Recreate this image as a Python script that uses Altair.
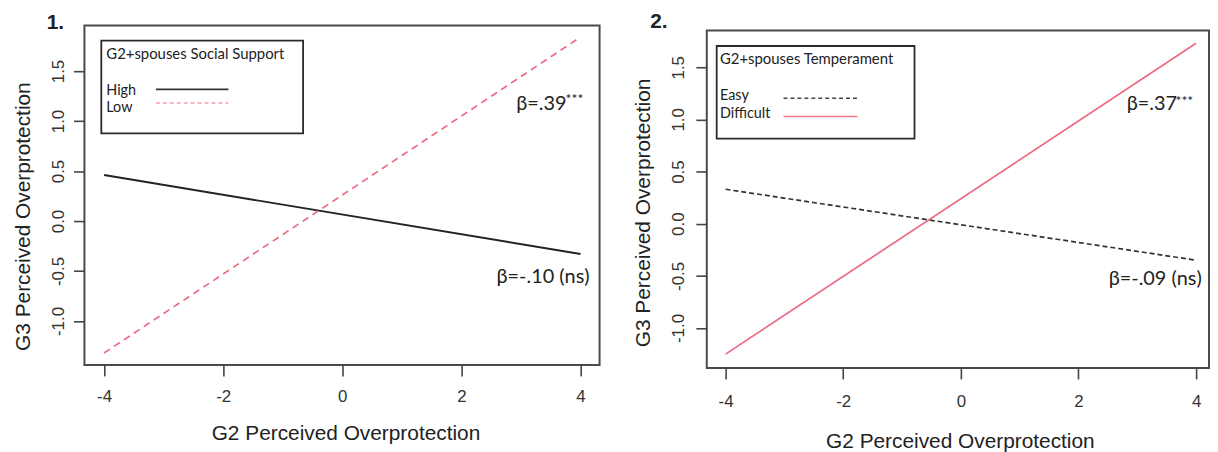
import altair as alt
import pandas as pd

# ---- data ----
x_ends = [-4, 4]
p1_high = [0.46, -0.33]
p1_low = [-1.32, 1.84]
p2_easy = [0.33, -0.35]
p2_difficult = [-1.25, 1.73]

x_ticks = [-4, -2, 0, 2, 4]
y_ticks = [-1.0, -0.5, 0.0, 0.5, 1.0, 1.5]

p1_legend_title = "G2+spouses Social Support"
p1_labels = ["High", "Low"]
p2_legend_title = "G2+spouses Temperament"
p2_labels = ["Easy", "Difficult"]
p1_beta = ["β=.39", "β=-.10 (ns)"]
p2_beta = ["β=.37", "β=-.09 (ns)"]
stars = "***"
panel_names = ["1.", "2."]
x_title = "G2 Perceived Overprotection"
y_title = "G3 Perceived Overprotection"

PINK = "#EC6A80"
DARK = "#222222"
AXF = "Liberation Sans"
TXF = "Lato"
BOX = alt.ViewBackground(stroke="#4a4a4a", strokeWidth=2, fill="white")

one = pd.DataFrame({"k": [0]})


def series_df(vals):
    return pd.DataFrame({"x": x_ends, "y": vals})


def make_axes(xdom, ydom, xlabpad, ylabpad, xt, yt):
    xlab = "datum.value < 0 ? '-' + format(abs(datum.value), 'd') : format(datum.value, 'd')"
    ylab = "datum.value < 0 ? '-' + format(abs(datum.value), '.1f') : format(datum.value, '.1f')"
    X = alt.X("x:Q", scale=alt.Scale(domain=xdom, nice=False, zero=False),
              axis=alt.Axis(values=x_ticks, labelExpr=xlab, tickSize=11, tickWidth=1.6,
                            tickColor="#444444", domain=False, grid=False,
                            labelFont=AXF, labelFontSize=17, labelColor="#333333",
                            labelPadding=xlabpad, labelFlush=False, labelOverlap=False,
                            title=x_title, titleFont=AXF, titleFontSize=21,
                            titleFontWeight="normal", titleColor=DARK,
                            titleX=xt[0], titleY=xt[1], titleAlign="center",
                            titleBaseline="middle"))
    Y = alt.Y("y:Q", scale=alt.Scale(domain=ydom, nice=False, zero=False),
              axis=alt.Axis(values=y_ticks, labelExpr=ylab, tickSize=11, tickWidth=1.6,
                            tickColor="#444444", domain=False, grid=False,
                            labelFont=AXF, labelFontSize=17, labelColor="#333333",
                            labelAngle=270, labelAlign="center", labelBaseline="alphabetic",
                            labelPadding=ylabpad, labelFlush=False, labelOverlap=False,
                            title=y_title, titleFont=AXF, titleFontSize=21,
                            titleFontWeight="normal", titleColor=DARK,
                            titleAngle=270, titleX=yt[0], titleY=yt[1],
                            titleAlign="center", titleBaseline="middle"))
    return X, Y


def txt(s, x, y, size=15, font=TXF, weight="normal", align="left"):
    return alt.Chart(one).mark_text(text=s, font=font, fontSize=size, fontWeight=weight,
                                    align=align, baseline="middle", color=DARK).encode(
        x=alt.value(x), y=alt.value(y))


def ann(s, x, y, X, Y, size=20):
    d = pd.DataFrame({"x": [x], "y": [y], "t": [s]})
    return alt.Chart(d).mark_text(font=TXF, fontSize=size, align="left",
                                  baseline="middle", color=DARK).encode(x=X, y=Y, text="t:N")


def legend(box, title_pos, labels, label_pos, samples):
    layers = [alt.Chart(one).mark_rect(filled=False, stroke="#2a2a2a", strokeWidth=1.8).encode(
        x=alt.value(box[0]), x2=alt.value(box[1]), y=alt.value(box[2]), y2=alt.value(box[3]))]
    layers.append(txt(title_pos[2], title_pos[0], title_pos[1]))
    for lab, (lx, ly) in zip(labels, label_pos):
        layers.append(txt(lab, lx, ly, size=14.5))
    for (x1, x2, yy, col, dash) in samples:
        kw = dict(color=col, strokeWidth=1.6)
        if dash:
            kw["strokeDash"] = dash
        layers.append(alt.Chart(one).mark_rule(**kw).encode(
            x=alt.value(x1), x2=alt.value(x2), y=alt.value(yy)))
    return layers


# ---- panel 1 ----
X1, Y1 = make_axes([-4.33, 4.32], [-1.44, 1.955], 13, 10, (263, 68.7), (-61.3, 192))
p1_lines = [
    alt.Chart(series_df(p1_high)).mark_line(color=DARK, strokeWidth=1.9).encode(x=X1, y=Y1),
    alt.Chart(series_df(p1_low)).mark_line(color=PINK, strokeWidth=1.7,
                                           strokeDash=[7, 5]).encode(x=X1, y=Y1),
]
p1_leg = legend((17, 220.3, 15.3, 108.7), (22, 29, p1_legend_title), p1_labels,
                [(22, 65.5), (22, 83.5)],
                [(72, 145, 64.3, "#333333", None), (72, 145, 78, "#F2A0AC", [4, 3])])
p1_ann = [ann(p1_beta[0], 2.92, 1.17, X1, Y1), ann(stars, 3.75, 1.206, X1, Y1, size=14),
          ann(p1_beta[1], 2.59, -0.565, X1, Y1)]
p1_lab = [txt(panel_names[0], -38, -3, size=21, font=AXF, weight="bold")]
panel1 = alt.layer(*p1_lines, *p1_leg, *p1_ann, *p1_lab).properties(
    width=519, height=342, view=BOX)

# ---- panel 2 ----
X2, Y2 = make_axes([-4.32, 4.22], [-1.383, 1.852], 15, 12, (255, 74), (-63.3, 183.3))
p2_lines = [
    alt.Chart(series_df(p2_easy)).mark_line(color="#333333", strokeWidth=1.7,
                                            strokeDash=[5, 3]).encode(x=X2, y=Y2),
    alt.Chart(series_df(p2_difficult)).mark_line(color=PINK, strokeWidth=1.7).encode(x=X2, y=Y2),
]
p2_leg = legend((10, 209.3, 15.6, 109), (13.3, 28.8, p2_legend_title), p2_labels,
                [(13.3, 66.5), (13.3, 83.8)],
                [(77.3, 151.7, 68.3, "#444444", [4, 3]), (77.3, 151.7, 86.6, "#F07C8C", None)])
p2_ann = [ann(p2_beta[0], 2.82, 1.145, X2, Y2), ann(stars, 3.65, 1.17, X2, Y2, size=14),
          ann(p2_beta[1], 2.515, -0.53, X2, Y2)]
p2_lab = [txt(panel_names[1], -57, -8.5, size=21, font=AXF, weight="bold")]
panel2 = alt.layer(*p2_lines, *p2_leg, *p2_ann, *p2_lab).properties(
    width=506, height=340, view=BOX)

spacer = alt.Chart(one).mark_point(opacity=0).encode(
    x=alt.value(0), y=alt.value(0)).properties(width=506, height=4.7,
                                               view=alt.ViewBackground(strokeOpacity=0))
right = alt.vconcat(spacer, panel2, spacing=0, bounds="flush")

chart = alt.hconcat(panel1, right, spacing=108, bounds="flush").properties(
    padding={"left": 3, "top": 0, "right": 0, "bottom": 0}
).configure(background="white")

chart.save("out.html", embed_options={"renderer": "svg", "actions": False})
